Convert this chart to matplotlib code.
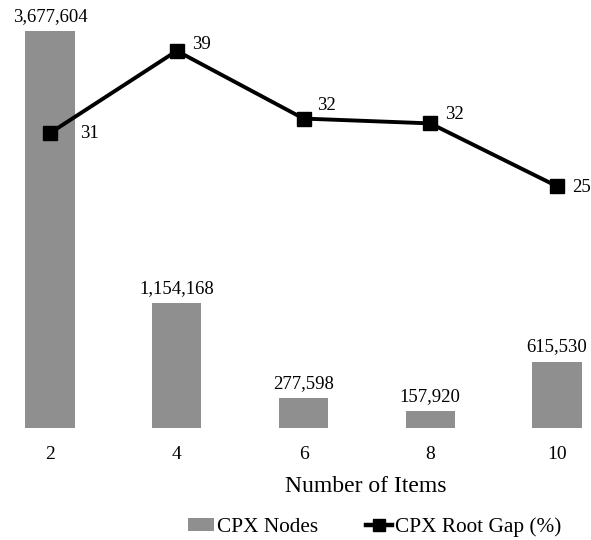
import matplotlib
matplotlib.use("Agg")
import matplotlib.pyplot as plt
from matplotlib.lines import Line2D
from matplotlib.patches import Patch
from matplotlib.font_manager import FontProperties
import math

categories = ["2", "4", "6", "8", "10"]
cpx_nodes = [3677604, 1154168, 277598, 157920, 615530]
root_gap = [30.5, 39.0, 32.0, 31.5, 25.0]
gap_labels = [str(int(math.floor(v + 0.5))) for v in root_gap]

# label offsets (pixels) for line labels
gap_dx = [30, 15, 14, 15, 15]
gap_dy = [0, 6, 13, 9, -1]

SERIF = ['Liberation Serif', 'DejaVu Serif']
plt.rcParams['font.family'] = SERIF

W, H = 591, 540
fig = plt.figure(figsize=(W / 100, H / 100), dpi=100)

ax_top_px = 20
ax_bot_px = 428
ax = fig.add_axes([0, (H - ax_bot_px) / H, 1, (ax_bot_px - ax_top_px) / H])

x = list(range(len(categories)))
spacing = 126.75
x0_px = 50
ax.set_xlim(-x0_px / spacing, (W - x0_px) / spacing)

bar_color = '#8f8f8f'
ax.bar(x, cpx_nodes, width=0.39, color=bar_color, zorder=1)
bar_top = 3677604 * (ax_bot_px - ax_top_px) / 397
ax.set_ylim(0, bar_top)

for xi, v in zip(x, cpx_nodes):
    ax.annotate(f"{v:,}", (xi, v), xytext=(0, 6), textcoords='offset pixels',
                ha='center', va='bottom', fontsize=13.5, clip_on=False)

ax2 = ax.twinx()
ax2.set_ylim(0, (ax_bot_px - ax_top_px) / 9.67)
ax2.plot(x, root_gap, color='black', lw=2.8, marker='s', markersize=10,
         zorder=3, clip_on=False)
for xi, v, lab, dx, dy in zip(x, root_gap, gap_labels, gap_dx, gap_dy):
    ax2.annotate(lab, (xi, v), xytext=(dx, dy), textcoords='offset pixels',
                 ha='left', va='center', fontsize=13.5, clip_on=False)

for a in (ax, ax2):
    for s in a.spines.values():
        s.set_visible(False)
    a.set_yticks([])
ax2.tick_params(length=0)
ax.set_xticks(x)
ax.set_xticklabels(categories, fontsize=14)
ax.tick_params(axis='x', length=0, pad=13)

fig.text(366 / W, 1 - 486 / H, "Number of Items", ha='center', va='center', fontsize=17)

handles = [Patch(facecolor=bar_color, edgecolor='none'),
           Line2D([0], [0], color='black', lw=3.2, marker='s', markersize=9)]
fig.legend(handles, ["CPX Nodes", "CPX Root Gap (%)"], loc='center',
           bbox_to_anchor=(375 / W, 1 - 527 / H), ncol=2, frameon=False,
           prop=FontProperties(family=SERIF, size=15.3),
           handlelength=1.22, handletextpad=0.14, columnspacing=2.26,
           handleheight=0.6, borderpad=0, borderaxespad=0)

fig.savefig("out.png", dpi=100)
